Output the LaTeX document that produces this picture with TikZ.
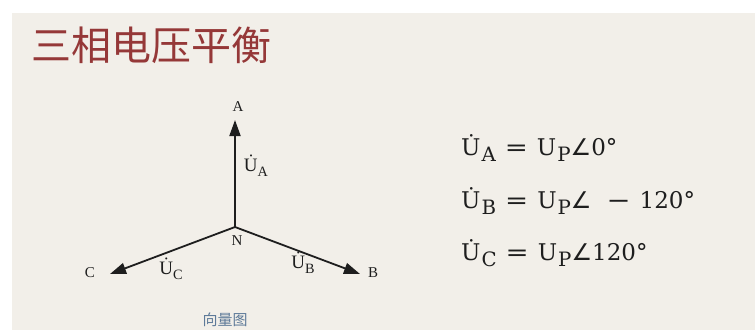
\documentclass[tikz,border=0pt]{standalone}
\usepackage{fontspec}
\newfontfamily\cjk{Noto Sans CJK SC}
\setmainfont{Liberation Serif}
\newfontfamily\eqfont{DejaVu Serif}
\newfontfamily\symfont{DejaVu Sans}
\usetikzlibrary{arrows.meta}
\definecolor{bgc}{HTML}{F2EFE9}
\definecolor{titlec}{HTML}{953838}
\definecolor{capc}{HTML}{5E7A99}
\definecolor{inkc}{HTML}{1E1E1E}
\newcommand{\sbs}[1]{\raisebox{-0.28em}{\scalebox{0.75}{#1}}}
\newcommand{\esbs}[1]{\hspace{1pt}\raisebox{-0.25em}{\scalebox{0.86}{#1}}}
\newcommand{\Ud}{\.{U}}
\newcommand{\eqsign}{\hspace{9pt}\scalebox{1.2}[1]{\symfont=}\hspace{9pt}}
\newcommand{\eqminus}{\hspace{15pt}\scalebox{1.25}[1]{\symfont−}\hspace{9pt}}
\tikzset{
  vec/.style={line width=1.8pt,-{Triangle[length=16pt,width=11pt]},draw=inkc},
  lbl/.style={font=\fontsize{15}{17}\selectfont,inner sep=0pt,text=inkc},
  vl/.style={font=\fontsize{19}{21}\selectfont,inner sep=0pt,text=inkc},
  eq/.style={font=\eqfont\fontsize{23}{27}\selectfont,anchor=west,inner sep=0pt,text=inkc}
}
\begin{document}
\begin{tikzpicture}[x=1pt,y=-1pt]
\useasboundingbox (0,0) rectangle (755,330);
\fill[white] (0,0) rectangle (755,330);
\fill[bgc] (12,13) rectangle (755,330);
\node[anchor=west,inner sep=0pt,text=titlec,font=\cjk\fontsize{40}{42}\selectfont] (title) at (31,45) {三相电压平衡};
% phasor diagram
\coordinate (N) at (235,227);
\coordinate (A) at (235,120);
\coordinate (B) at (360,274);
\coordinate (C) at (110,274);
\draw[vec] (N) -- (A);
\draw[vec] (N) -- (B);
\draw[vec] (N) -- (C);
\node[lbl] (la) at (238,107) {A};
\node[lbl] (lb) at (373,273) {B};
\node[lbl] (lc) at (90,273) {C};
\node[lbl] (ln) at (237,241) {N};
\node[vl] (ua) at (256,166) {\Ud\sbs{A}};
\node[vl] (uc) at (171,269) {\Ud\sbs{C}};
\node[vl] (ub) at (303,263) {\Ud\sbs{B}};
% equations
\node[eq] (e1) at (461,148) {\Ud\esbs{A}\eqsign U\esbs{P}{\symfont∠}0°};
\node[eq] (e2) at (461,201) {\Ud\esbs{B}\eqsign U\esbs{P}{\symfont∠}\eqminus 120°};
\node[eq] (e3) at (461,253) {\Ud\esbs{C}\eqsign U\esbs{P}{\symfont∠}120°};
\node[inner sep=0pt,text=capc,font=\cjk\fontsize{15}{17}\selectfont] (cap) at (225,320) {向量图};
\end{tikzpicture}
\end{document}
